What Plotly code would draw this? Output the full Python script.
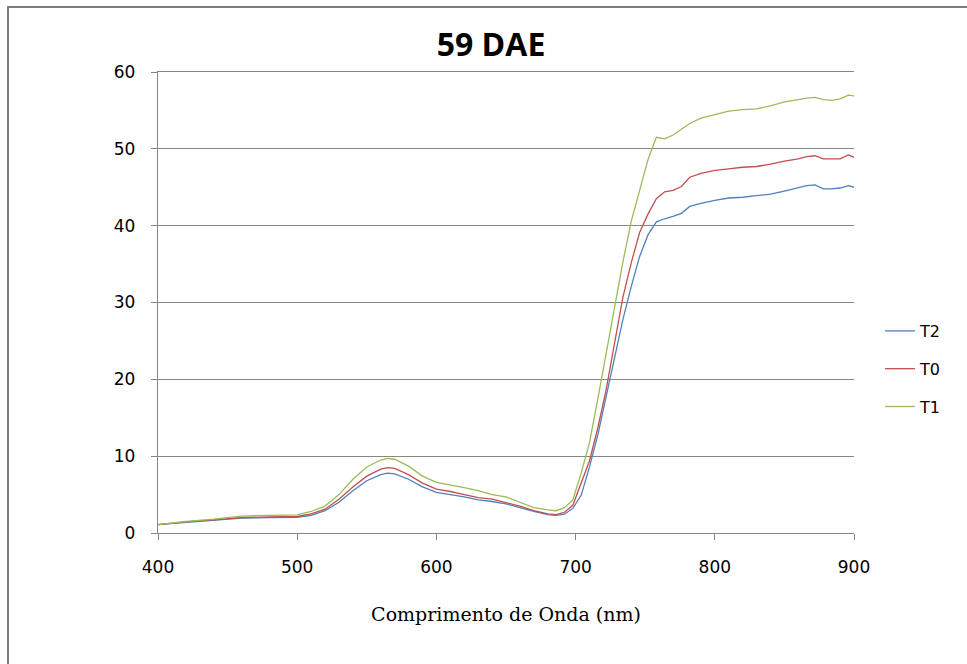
import plotly.graph_objs as go

# comprimento de onda (nm)
wl = [400, 420, 440, 460, 480, 500, 510, 520, 530, 540, 550, 560, 565, 570, 580, 590,
      600, 610, 620, 630, 640, 650, 660, 670, 680, 686, 692, 698, 704, 710, 716, 722,
      728, 734, 740, 746, 752, 758, 764, 770, 776, 782, 790, 800, 810, 820, 830, 840,
      850, 860, 866, 872, 878, 884, 890, 896, 900]

t2 = [1.1, 1.4, 1.65, 1.95, 2.0, 2.05, 2.3, 2.9, 4.0, 5.5, 6.8, 7.6, 7.8, 7.7, 7.0, 6.0,
      5.3, 5.0, 4.7, 4.3, 4.1, 3.8, 3.3, 2.8, 2.4, 2.3, 2.45, 3.2, 4.9, 8.6, 12.8, 17.8,
      22.8, 27.8, 32.1, 36.0, 38.8, 40.5, 40.9, 41.2, 41.6, 42.5, 42.9, 43.3, 43.6, 43.7, 43.9, 44.1,
      44.5, 44.9, 45.2, 45.3, 44.8, 44.8, 44.9, 45.2, 45.0]

t0 = [1.1, 1.45, 1.7, 2.0, 2.1, 2.15, 2.5, 3.1, 4.4, 6.0, 7.4, 8.3, 8.5, 8.4, 7.6, 6.5,
      5.7, 5.4, 5.0, 4.6, 4.4, 4.0, 3.5, 2.9, 2.5, 2.4, 2.7, 3.6, 6.4, 9.4, 13.7, 18.7,
      24.7, 30.7, 35.2, 39.1, 41.5, 43.5, 44.4, 44.6, 45.1, 46.3, 46.8, 47.2, 47.4, 47.6, 47.7, 48.0,
      48.4, 48.7, 49.0, 49.1, 48.7, 48.7, 48.7, 49.2, 48.9]

t1 = [1.1, 1.5, 1.8, 2.2, 2.3, 2.35, 2.8, 3.5, 5.0, 7.0, 8.6, 9.5, 9.7, 9.6, 8.7, 7.4,
      6.6, 6.3, 5.9, 5.5, 5.0, 4.7, 4.0, 3.3, 3.0, 2.9, 3.3, 4.3, 7.8, 11.8, 17.5, 23.4,
      29.7, 35.3, 40.6, 44.6, 48.6, 51.5, 51.3, 51.8, 52.6, 53.3, 54.0, 54.5, 54.9, 55.1, 55.2, 55.6,
      56.1, 56.4, 56.6, 56.7, 56.4, 56.3, 56.5, 57.0, 56.9]

series = [("T2", t2, "#4F81BD"), ("T0", t0, "#C0504D"), ("T1", t1, "#9BBB59")]

W, H = 967, 664
ml, mr, mt, mb = 158, 113, 72, 131
pw, ph = W - ml - mr, H - mt - mb

def px_x(p):
    return (p - ml) / pw

def px_y(p):
    return (H - mb - p) / ph

fig = go.Figure()
for name, vals, col in series:
    fig.add_trace(go.Scatter(x=wl, y=vals, name=name, mode="lines",
                             legendgroup=name,
                             line=dict(color=col, width=1.3)))

grey = "#868686"
fig.update_layout(
    width=W, height=H, autosize=False,
    margin=dict(l=ml, r=mr, t=mt, b=mb),
    paper_bgcolor="white", plot_bgcolor="white",
    font=dict(family="DejaVu Sans", size=17, color="black"),
    title=dict(text="<b>59 DAE</b>", x=px_x(491), xanchor="center", xref="paper",
               y=1 - 45 / H, yanchor="middle",
               font=dict(family="Open Sans", size=32, color="black")),
    legend=dict(x=px_x(880), xanchor="left", y=px_y(369), yanchor="middle",
                font=dict(family="DejaVu Sans", size=16), tracegroupgap=14,
                bgcolor="rgba(0,0,0,0)"),
    showlegend=True,
)
fig.update_xaxes(range=[400, 900], tickvals=[400, 500, 600, 700, 800, 900],
                 showgrid=False, showline=True, mirror=True, linecolor=grey, linewidth=1.3,
                 ticks="outside", ticklen=6, tickcolor=grey, zeroline=False,
                 ticklabelstandoff=12,
                 title=dict(text="Comprimento de Onda (nm)",
                            font=dict(family="DejaVu Serif", size=19), standoff=32))
fig.update_yaxes(range=[0, 60], tickvals=[0, 10, 20, 30, 40, 50, 60],
                 showgrid=True, gridcolor=grey, gridwidth=1.2,
                 showline=True, linecolor=grey, linewidth=1.3,
                 ticks="outside", ticklen=6, tickcolor=grey, zeroline=False,
                 ticklabelstandoff=12)

# chart border (only left/top are inside the picture)
fig.add_shape(type="rect", xref="paper", yref="paper",
              x0=px_x(8), x1=px_x(990), y0=px_y(690), y1=px_y(7),
              line=dict(color="#7f7f7f", width=2), layer="below")

fig.write_html("out.html", config={"displayModeBar": False},
               post_script="document.body.style.margin='0';")
